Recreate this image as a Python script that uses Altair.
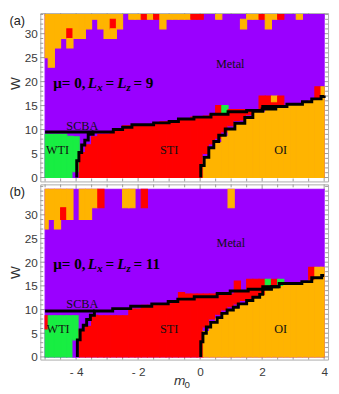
import altair as alt
import pandas as pd

# ---------------- data ----------------
# column centres of the density grid (m0)
M0_COLS = [-5.0, -4.8, -4.6, -4.4, -4.2, -4.0, -3.8, -3.6, -3.4, -3.2,
           -3.0, -2.8, -2.6, -2.4, -2.2, -2.0, -1.8, -1.6, -1.4, -1.2,
           -1.0, -0.8, -0.6, -0.4, -0.2, 0.0, 0.2, 0.4, 0.6, 0.8,
           1.0, 1.2, 1.4, 1.6, 1.8, 2.0, 2.2, 2.4, 2.6, 2.8,
           3.0, 3.2, 3.4, 3.6, 3.8, 4.0]

# per column: phase segments from W=0 upward ("<phase><top W>"), purple (Metal) above
A_BOTTOM = [
    "G9", "G9", "G9", "G9", "G8.6", "P1.2 G8.5", "R5.2", "R6.8", "R8.5", "R9",
    "R9", "R9.6", "R10", "R10.8", "R10.8", "R10.8", "R11", "R11", "R11.4", "R11.6",
    "R11.6", "R11.7", "R12.2", "R12.2", "R12.6", "R12.6", "O4.2 P5 R12.8", "O6.2 P7 R13.2",
    "O7.5 P8.2 R15", "O8.8 P9.5 R13.3 G15",
    "O10.1 P10.8 R14.2", "O11.3 P11.9 R14.2", "O11.3 P12 R14.2", "O12.5 P13.1 R14", "O13.8 P14.3",
    "O13.8 P14.3 R17", "O14.8 R17", "O14.8 R15.8 O17", "O14.8 R17", "O15",
    "O15.3", "O15.3", "O15.8", "O16", "O16.4 R18.9", "O18.9"]
# per column: phase segments from the top of the map downward ("<phase><bottom W>")
A_TOP = [
    "O25", "O23", "O27", "O29", "O31 R29 O27", "O29", "O29", "O31", "O33", "O31",
    "O29", "O33 R31 O29", "O31", "", "O33", "O33", "R33", "O33", "R33", "O31",
    "O33", "O33", "O33", "O33", "R33", "R33", "", "", "O33", "",
    "", "", "P33 O31", "O33", "O33", "R33", "O31", "O33", "R33", "",
    "", "O33", "", "", "", ""]
A_TOP_W = 34.0

B_BOTTOM = [
    "G5.9 R8.7", "G8.7", "G8.7", "G8.7", "G8.7", "P3.6 G8.7", "R5.7 P8.8", "R6.7 P9.7", "R8.8", "R8.7",
    "R8.7", "R8.7", "R8.7", "R8.7", "R10.1", "R10.1", "R10.9", "R10.9", "R10.9", "R11.2",
    "R11.2", "R11.7", "R13.6", "R13.3", "R13.3", "R13.3", "O5.6 P6.3 R13.3", "O7.3 P8 R13.3",
    "O8.3 P9 R13.3", "O9.2 P9.9 R13.3",
    "O9.9 P10.6 R13.3", "O10.5 P11.2 R16", "O11.2 P11.9 R13.9", "O11.9 R16.4", "O12.6 R16.4",
    "O13.2 R16.4", "O14.3 R15.2 G16.4", "O14.8 R16.4", "O15.1 G16.4", "O15.5",
    "O15.5", "O15.5", "O15.9", "O16.3 R18.9", "O18.9", "O18.9"]
B_TOP = [
    "O27", "O29", "O27", "O31.5 R29", "O29", "", "O29", "O29", "O31.5", "R31.5",
    "", "", "", "O31.5", "O31.5", "", "R31.5", "", "", "",
    "", "", "", "", "", "", "", "", "", "",
    "O31.5", "", "", "", "", "", "", "", "", "",
    "", "", "", "", "", ""]
B_TOP_W = 35.4

# SCBA boundaries (step lines): SCBA drawn step-after, WTI / OI edges step-before
A_SCBA_M = [-5.0, -2.8, -2.5, -2.2, -1.5, -1.0, -0.7, -0.2, 0.35, 0.9, 1.5, 2.0, 2.44, 2.8, 3.3, 3.6, 3.9, 4.0]
A_SCBA_W = [9.5, 10.0, 10.5, 11.0, 11.4, 11.7, 12.2, 12.6, 13.2, 13.7, 14.0, 14.3, 14.8, 15.3, 15.8, 16.4, 16.9, 17.1]
A_WTI_M = [-3.98, -3.91, -3.82, -3.72, -3.61, -3.45, -3.44]
A_WTI_W = [0.0, 3.5, 5.2, 6.8, 7.8, 9.0, 9.5]
A_OI_M = [0.02, 0.13, 0.28, 0.44, 0.6, 0.81, 1.12, 1.44, 1.7, 2.02, 2.44]
A_OI_W = [0.0, 2.5, 4.2, 6.2, 7.5, 8.8, 10.1, 11.3, 12.5, 13.8, 14.8]

B_SCBA_M = [-5.0, -2.82, -2.24, -1.56, -1.03, -0.72, -0.19, 0.55, 0.97, 1.55, 2.02, 2.55, 3.28, 3.6, 3.92, 4.0]
B_SCBA_W = [9.7, 10.2, 10.7, 11.2, 11.7, 12.2, 12.7, 13.4, 13.9, 14.3, 14.8, 15.5, 15.9, 16.7, 17.2, 17.2]
B_WTI_M = [-3.96, -3.87, -3.77, -3.66, -3.54, -3.41, -3.40]
B_WTI_W = [0.0, 3.6, 5.7, 6.7, 7.9, 8.8, 9.7]
B_OI_M = [0.02, 0.09, 0.2, 0.34, 0.55, 0.7, 0.87, 1.07, 1.23, 1.5, 1.7, 1.92, 2.02, 2.3, 2.55]
B_OI_W = [0.0, 3.2, 5.0, 6.3, 7.3, 8.3, 9.2, 9.9, 10.5, 11.2, 11.9, 12.6, 13.2, 14.3, 14.8]

# region labels (text, m0, W)
A_LABELS = [("Metal", 0.97, 23.7), ("SCBA", -3.8, 10.8), ("WTI", -4.6, 5.8),
            ("STI", -1.0, 5.8), ("OI", 2.6, 5.8)]
B_LABELS = [("Metal", 0.99, 24.0), ("SCBA", -3.8, 11.1), ("WTI", -4.58, 5.85),
            ("STI", -1.0, 5.9), ("OI", 2.6, 5.95)]
# formula pieces: text, m0 of left edge, kind
FORMULA_A = ["μ= 0,", "L", "x", "=", "L", "z", "= 9"]
FORMULA_B = ["μ= 0,", "L", "x", "=", "L", "z", "= 11"]
FORMULA_M = [-4.74, -3.622, -3.322, -3.053, -2.674, -2.374, -2.153]
FORMULA_KIND = ["main", "ital", "sub", "main", "ital", "sub", "main"]
A_FORMULA_W = 18.75
B_FORMULA_W = 18.66

X_MAJOR = [-4, -2, 0, 2, 4]
X_MINOR = [-5, -4.5, -3.5, -3, -2.5, -1.5, -1, -0.5, 0.5, 1, 1.5, 2.5, 3, 3.5]
Y_MAJOR = [0, 5, 10, 15, 20, 25, 30]
Y_MINOR_A = [1, 2, 3, 4, 6, 7, 8, 9, 11, 12, 13, 14, 16, 17, 18, 19, 21, 22, 23, 24,
             26, 27, 28, 29, 31, 32, 33, 34]
Y_MINOR_B = Y_MINOR_A + [35, 36]

# ---------------- styling ----------------
PHASES = ["P", "R", "O", "G"]
PHASE_COLORS = ["#9A00FF", "#FF0000", "#FFB400", "#18EE42"]
SERIF = "Liberation Serif"
SANS = "Liberation Sans"
AX_COL = "#3a3a3a"
TICK_COL = "#9a9a9a"
X_DOMAIN = [-5.155, 4.126]
PLOT_W = 294


def build_cells(bottom, top, top_w):
    rows = [dict(x0=-5.0, x1=4.0, y0=0.0, y1=top_w, ph="P")]
    for c, bs, ts in zip(M0_COLS, bottom, top):
        x0 = max(round(c - 0.1, 3), -5.0)
        x1 = min(round(c + 0.1, 3), 4.0)
        lo = 0.0
        for tok in bs.split():
            hi = float(tok[1:])
            rows.append(dict(x0=x0, x1=x1, y0=lo, y1=hi, ph=tok[0]))
            lo = hi
        hi = top_w
        for tok in ts.split():
            lo = float(tok[1:])
            rows.append(dict(x0=x0, x1=x1, y0=lo, y1=hi, ph=tok[0]))
            hi = lo
    return pd.DataFrame(rows)


def panel(cells, scba, wti, oi, labels, formula, formula_w, height, ydom,
          x_labels, tag, w_title_y, y_minor):
    xs = alt.Scale(domain=X_DOMAIN, nice=False, zero=False)
    ys = alt.Scale(domain=ydom, nice=False, zero=False)
    if x_labels:
        xax = alt.Axis(values=X_MAJOR,
                       labelExpr="datum.value < 0 ? '- ' + abs(datum.value) : '' + datum.value",
                       ticks=False, domain=False, grid=False, title=None, labelFont=SANS,
                       labelFontSize=12, labelColor=AX_COL, labelPadding=7, labelFlush=False)
    else:
        xax = None
    yax = alt.Axis(values=Y_MAJOR, ticks=False, domain=False, grid=False, title=None,
                   labelFont=SANS, labelFontSize=12, labelColor=AX_COL, labelPadding=3,
                   labelFlush=False)

    def X(f):
        return alt.X(f, type="quantitative", scale=xs, axis=xax)

    def Y(f):
        return alt.Y(f, type="quantitative", scale=ys, axis=yax)

    layers = []
    # inward frame ticks (drawn under the map, visible in the frame gap)
    for vals, ln in ((Y_MAJOR, 6), (y_minor, 3)):
        d = pd.DataFrame({"w": vals})
        layers.append(alt.Chart(d).mark_rule(color=TICK_COL, strokeWidth=1).encode(
            x=alt.value(0), x2=alt.value(ln), y=Y("w")))
        layers.append(alt.Chart(d).mark_rule(color=TICK_COL, strokeWidth=1).encode(
            x=alt.value(PLOT_W - ln), x2=alt.value(PLOT_W), y=Y("w")))
    for vals, ln in ((X_MAJOR, 6), (X_MINOR, 3)):
        d = pd.DataFrame({"m": vals})
        layers.append(alt.Chart(d).mark_rule(color=TICK_COL, strokeWidth=1).encode(
            x=X("m"), y=alt.value(height - ln), y2=alt.value(height)))
        layers.append(alt.Chart(d).mark_rule(color=TICK_COL, strokeWidth=1).encode(
            x=X("m"), y=alt.value(0), y2=alt.value(ln)))

    cscale = alt.Scale(domain=PHASES, range=PHASE_COLORS)
    layers.append(alt.Chart(cells).mark_rect(strokeWidth=1.1).encode(
        x=X("x0"), x2="x1", y=Y("y0"), y2="y1",
        color=alt.Color("ph:N", scale=cscale, legend=None),
        stroke=alt.Stroke("ph:N", scale=cscale, legend=None)))

    for (ms, ws), interp in ((scba, "step-after"), (wti, "step-before"), (oi, "step-before")):
        d = pd.DataFrame({"m": ms, "w": ws})
        layers.append(alt.Chart(d).mark_line(color="black", strokeWidth=3, interpolate=interp).encode(
            x=X("m"), y=Y("w")))

    ld = pd.DataFrame(labels, columns=["t", "m", "w"])
    layers.append(alt.Chart(ld).mark_text(font=SERIF, fontSize=12.5, color="#111").encode(
        x=X("m"), y=Y("w"), text="t:N"))

    fd = pd.DataFrame({"t": formula, "m": FORMULA_M, "k": FORMULA_KIND})
    sub_w = formula_w - 0.75
    styles = {"main": dict(fontStyle="normal", fontSize=15.5),
              "ital": dict(fontStyle="italic", fontSize=15.5),
              "sub": dict(fontStyle="italic", fontSize=11)}
    for kind, st in styles.items():
        dd = fd[fd.k == kind].copy()
        dd["w"] = sub_w if kind == "sub" else formula_w
        layers.append(alt.Chart(dd).mark_text(font=SERIF, fontWeight="bold", align="left",
                                              baseline="alphabetic", color="#000", **st).encode(
            x=X("m"), y=Y("w"), text="t:N"))

    one = pd.DataFrame({"t": [tag]})
    layers.append(alt.Chart(one).mark_text(font=SANS, fontSize=13, align="left", baseline="middle",
                                           color="#222").encode(
        x=alt.value(-31.5), y=alt.value(8), text="t:N"))
    wt = pd.DataFrame({"t": ["W"]})
    layers.append(alt.Chart(wt).mark_text(font=SANS, fontSize=14, angle=270, baseline="middle",
                                          color="#333").encode(
        x=alt.value(-25), y=alt.value(w_title_y), text="t:N"))
    if x_labels:
        mt = pd.DataFrame({"t": ["m"]})
        layers.append(alt.Chart(mt).mark_text(font=SANS, fontSize=14, fontStyle="italic",
                                              color="#333").encode(
            x=alt.value(142.5), y=alt.value(201), text="t:N"))
        zt = pd.DataFrame({"t": ["0"]})
        layers.append(alt.Chart(zt).mark_text(font=SANS, fontSize=10, color="#333").encode(
            x=alt.value(150), y=alt.value(205), text="t:N"))

    return alt.layer(*layers).properties(width=PLOT_W, height=height)


cells_a = build_cells(A_BOTTOM, A_TOP, A_TOP_W)
cells_b = build_cells(B_BOTTOM, B_TOP, B_TOP_W)

panel_a = panel(cells_a, (A_SCBA_M, A_SCBA_W), (A_WTI_M, A_WTI_W), (A_OI_M, A_OI_W),
                A_LABELS, FORMULA_A, A_FORMULA_W, 172, [-0.82, 34.3], False, "(a)", 72, Y_MINOR_A)
panel_b = panel(cells_b, (B_SCBA_M, B_SCBA_W), (B_WTI_M, B_WTI_W), (B_OI_M, B_OI_W),
                B_LABELS, FORMULA_B, B_FORMULA_W, 179, [-0.56, 36.43], True, "(b)", 90, Y_MINOR_B)

chart = alt.vconcat(panel_a, panel_b, spacing=3, bounds="flush").properties(
    padding=0, background="white"
).configure_view(stroke="#ababab", strokeWidth=1)

chart.save("out.html", embed_options={"renderer": "svg", "actions": False})
